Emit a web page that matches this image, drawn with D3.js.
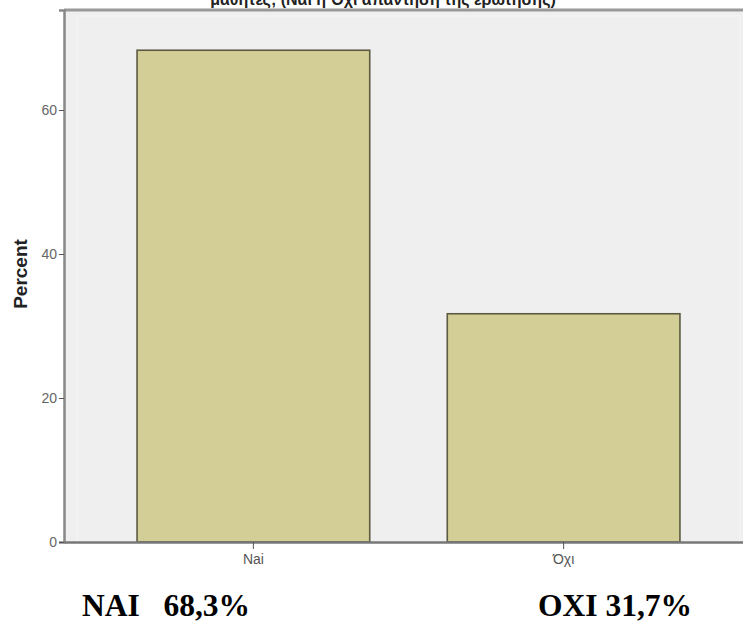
<!DOCTYPE html>
<html>
<head>
<meta charset="utf-8">
<script src="https://cdn.jsdelivr.net/npm/d3@7"></script>
<style>
html,body{margin:0;padding:0;background:#fff;}
svg{display:block;}
</style>
</head>
<body>
<svg id="chart" width="743" height="625"></svg>
<script>
// Data
const categories = ["Nai", "Όχι"];
const percents = [68.3, 31.7];
const yTicks = [0, 20, 40, 60];
const summaryLabels = ["NAI   68,3%", "OXI 31,7%"];
const titleText = "μαθητές; (Ναι ή Όχι απάντηση της ερώτησης)";
const yLabel = "Percent";

(function () {
const svg = d3.select("#chart");
const W = 743, H = 625;
const mLeft = 64, mTop = 10, mBottom = 542, rightRange = 753;

const x = d3.scaleBand().domain(categories).range([mLeft, rightRange])
  .paddingInner(0.25).paddingOuter(0.2355);
const y = d3.scaleLinear().domain([0, (mBottom - mTop) / 7.2]).range([mBottom, mTop]);

// cropped title at the very top
svg.append("text")
  .attr("x", 383).attr("y", 5)
  .attr("text-anchor", "middle")
  .attr("font-family", "Arial, 'Liberation Sans', sans-serif")
  .attr("font-weight", "bold").attr("font-size", 16)
  .attr("fill", "#222")
  .text(titleText);

// plot background
svg.append("rect")
  .attr("x", mLeft).attr("y", mTop)
  .attr("width", W - mLeft + 10).attr("height", mBottom - mTop)
  .attr("fill", "#efefef");
// inner slightly lighter frame line
svg.append("rect")
  .attr("x", mLeft + 13).attr("y", mTop + 6)
  .attr("width", W - mLeft - 16).attr("height", mBottom - mTop - 6)
  .attr("fill", "none").attr("stroke", "#f6f6f6").attr("stroke-width", 1);

// frame top border
svg.append("line")
  .attr("x1", mLeft).attr("x2", W).attr("y1", mTop).attr("y2", mTop)
  .attr("stroke", "#999").attr("stroke-width", 3);

// bars
svg.selectAll("rect.bar").data(categories).enter().append("rect")
  .attr("class", "bar")
  .attr("x", d => x(d))
  .attr("y", (d, i) => y(percents[i]))
  .attr("width", x.bandwidth())
  .attr("height", (d, i) => y(0) - y(percents[i]))
  .attr("fill", "#d3ce96")
  .attr("stroke", "#5c5a40").attr("stroke-width", 1.6);

// y axis
const yAxis = svg.append("g")
  .attr("transform", `translate(${mLeft},0)`)
  .call(d3.axisLeft(y).tickValues(yTicks).tickSize(5).tickPadding(2).tickFormat(d3.format("d")));
yAxis.select(".domain").attr("stroke", "#888").attr("stroke-width", 2.5);
yAxis.selectAll(".tick line").attr("stroke", "#555");
yAxis.selectAll(".tick text")
  .attr("font-family", "'Liberation Sans Narrow', Arial, sans-serif")
  .attr("font-size", 14).attr("fill", "#666");

// x axis
const xAxis = svg.append("g")
  .attr("transform", `translate(0,${mBottom})`)
  .call(d3.axisBottom(x).tickSize(7).tickPadding(5).tickSizeOuter(0));
xAxis.select(".domain").attr("stroke", "#777").attr("stroke-width", 2.5);
xAxis.selectAll(".tick line").attr("stroke", "#555");
xAxis.selectAll(".tick text")
  .attr("font-family", "'Liberation Sans Narrow', Arial, sans-serif")
  .attr("font-size", 14).attr("fill", "#555");

// y label
svg.append("text")
  .attr("transform", "translate(27,274) rotate(-90)")
  .attr("text-anchor", "middle")
  .attr("font-family", "Arial, 'Liberation Sans', sans-serif")
  .attr("font-weight", "bold").attr("font-size", 19)
  .attr("fill", "#222")
  .text(yLabel);

// summary labels below
const sumX = [82, 538];
svg.selectAll("text.summary").data(summaryLabels).enter().append("text")
  .attr("class", "summary")
  .attr("x", (d, i) => sumX[i]).attr("y", 616)
  .attr("font-family", "'Liberation Serif', 'Times New Roman', serif")
  .attr("font-weight", "bold").attr("font-size", 31.5)
  .attr("fill", "#000")
  .attr("xml:space", "preserve")
  .style("white-space", "pre")
  .text(d => d);
})();
</script>
</body>
</html>
